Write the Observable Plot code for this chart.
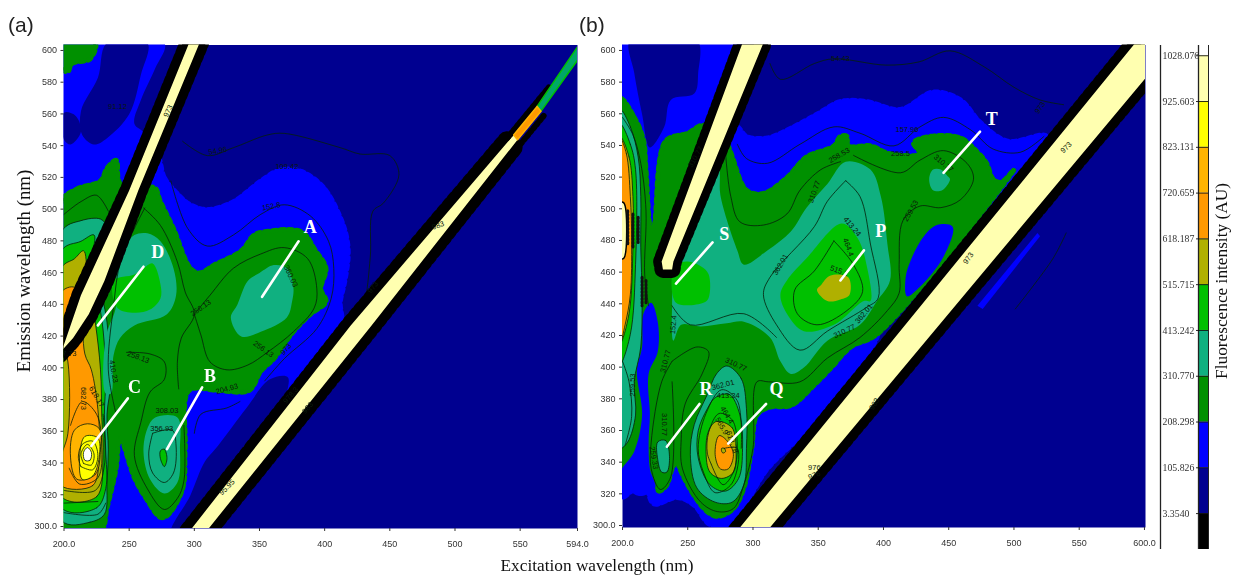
<!DOCTYPE html>
<html><head><meta charset="utf-8">
<script src="https://cdn.jsdelivr.net/npm/d3@7"></script>
<script src="https://cdn.jsdelivr.net/npm/@observablehq/plot@0.6"></script>
<style>
html,body{margin:0;padding:0;background:#fff;overflow:hidden}
#root{position:relative;width:1233px;height:576px;overflow:hidden;filter:blur(0.4px)}
#root>svg,#root>div{position:absolute}
.t{font-family:"Liberation Serif",serif;white-space:nowrap;color:#111}
.p{font-family:"Liberation Sans",sans-serif;font-size:21px;color:#222;white-space:nowrap}
</style></head><body><div id="root"></div>
<script>
const navy="#000090",blue="#0000ff",green="#009000",teal="#10b080",bright="#00c000",olive="#b0b000",orange="#ff9900",amber="#ffb400",yellow="#ffff00",cream="#ffffb0";

/* ---------- panel (a) regions: [excitation nm, emission nm] ---------- */
const aBlueLeft=[[200,606],[277,606],[270,590],[259,570],[254,555],[262,548],[250,500],[200,450]];
const aNavyWedge=[[233,606],[264,606],[259,586],[250,561],[233,546],[223,542],[214,548],[213,563],[226,584]];
const aNavyPatch=[[200,562],[209,560],[213,550],[205,542],[200,545]];
const aGreenCorner=[[198,606],[224,606],[220,596],[206,593],[203,588],[198,590]];
const aBlueMain=[[272,534],[277,521],[287,511],[297,504],[310,501],[330,506],[351,519],[366,526],[382,525],[399,515],[412,496],[417,483],[418,471],[415,454],[412,443],[412,425],[290,296],[228,296],[240,400]];
const aNavyStrip=[[282,296],[297,321],[308,342],[318,352],[340,376],[358,394],[372,395],[310,296]];
const aGreen=[[198,506],[210,514],[228,519],[233,527],[240,532],[242,519],[250,510],[269,515],[274,506],[284,489],[297,464],[304,461],[315,466],[336,475],[346,485],[354,487],[382,487],[393,475],[401,464],[397,451],[401,443],[389,435],[376,424],[361,407],[351,399],[342,387],[318,387],[296,387],[293,350],[291,325],[279,308],[274,307],[263,319],[254,332],[243,357],[240,338],[233,313],[228,298],[198,298]];
const aTealL=[[198,305],[220,304],[231,309],[233,329],[234,350],[233,372],[236,393],[233,430],[227,460],[231,481],[233,490],[228,495],[213,494],[198,487]];
const aBrightL=[[198,313],[225,313],[232,325],[232,350],[231,372],[232,395],[230,425],[222,470],[223,485],[213,481],[198,475]];
const aOliveL=[[198,320],[225,320],[230,345],[229,370],[228,400],[224,430],[218,460],[215,475],[208,470],[198,464]];
const aOrangeL=[[198,327],[222,327],[227,345],[226,375],[221,400],[216,410],[213,440],[208,452],[198,449],[198,420],[203,405],[203,360],[198,345]];
const aAmberL=[[210,331],[224,334],[228,350],[227,363],[218,366],[208,362],[205,345]];
const aYellowL=[[214,331],[222,333],[227,345],[226,357],[216,358],[212,345]];
const aCreamPeak=[[216,343],[220,343],[221,348],[218,351],[215,348]];
const aTealD=[[248,479],[254,485],[264,486],[274,481],[284,464],[286,447],[279,435],[254,428],[243,420],[238,409],[236,385],[232,385],[232,420],[240,440],[240,458]];
const aBrightD=[[238,456],[254,460],[261,464],[268,467],[274,454],[274,445],[266,438],[254,436],[241,439]];
const aTealA=[[361,466],[371,464],[376,452],[375,443],[371,433],[351,424],[336,421],[328,433],[333,441],[341,456],[350,461]];
const aTealB=[[270,370],[287,370],[289,350],[287,329],[277,322],[266,331],[261,348],[264,363]];
const aBrightB=[[274,349],[277,350],[279,344],[277,339],[274,344]];
/* contour lines */
const aLine1=[[291,544],[310,535],[330,540],[356,548],[369,549],[412,540],[427,536],[450,535],[457,523],[445,505],[437,500],[435,471],[430,440],[420,420]];
const aLine2=[[282,519],[295,489],[310,478],[330,485],[351,498],[369,504],[389,497],[403,481],[407,464],[405,445],[394,426],[369,407],[354,393]];
const aLine3=[[300,435],[305,422],[312,405],[325,400],[341,403],[356,411],[376,424],[392,439],[394,451],[387,470],[369,477],[351,473],[330,464],[312,447],[300,435]];
const aLine4=[[261,502],[274,491],[287,468],[293,449],[300,435],[290,420],[287,405],[288,388]];
const aLine5=[[248,411],[266,410],[277,405],[277,394],[266,386],[259,367],[254,346],[264,325],[277,312],[287,319],[292,330],[292,365]];
const aLine6=[[268,360],[283,362],[286,352],[284,335],[277,329],[268,335],[265,347],[268,360]];
const aLine7=[[200,498],[213,506],[225,510],[234,500]];
const aLine8=[[262,502],[244,470],[238,440],[234,400],[240,372]];
const aLine9=[[200,310],[226,309],[232,316]];
const aLine10=[[200,316],[226,317]];
const aLine11=[[200,324],[224,324],[231,340],[230,372]];
const aLine12=[[204,338],[212,328],[226,332],[229,352],[225,372],[214,380],[205,365]];
const aLine13=[[213,339],[222,337],[226,346],[222,355],[214,353],[211,345],[213,339]];
const aLine14=[[215,341],[221,340],[223,347],[218,353],[213,347],[215,341]];
const aLine15=[[300,360],[305,372],[325,376],[335,380]];
const aLines=[aLine1,aLine2,aLine3,aLine4,aLine5,aLine6,aLine7,aLine8,aLine9,aLine10,aLine11,aLine12,aLine13,aLine14,aLine15];
/* scatter bands */
const aBand2=[[296,606],[250,513],[213,447],[200,416],[196,410],[207,420],[219,435],[231,456],[257,513],[304,606]];
const aBand1=[[288,290],[298,300],[420,428],[545,548],[548,545],[436,428],[311,300],[301,290]];
const aBand1Up=[[288,290],[298,300],[420,428],[540,544]];
const aBand1Down=[[301,290],[311,300],[436,428],[545,541]];
const aTailEdgeUp=[[540,546],[572,578]];
const aTailEdgeDown=[[548,540],[568,560]];
const aTailOrange=[[545,548],[563,566],[566,563],[548,545]];
const aTailGreen=[[563,566],[596,606],[600,602],[566,563]];
/* annotations */
const aArrows=[{k:"A",l:[[380,481],[352,446]],t:[389,490]},{k:"D",l:[[261,465],[226,428]],t:[272,474]},{k:"C",l:[[249,382],[221,352]],t:[254,389]},{k:"B",l:[[306,389],[279,350]],t:[312,396]}];
const aLabels=[["91.12",241,566,0],["54.96",318,538,-10],["109.42",371,528,0],["152.8",359,503,-10],["360.03",374,459,65],["258.13",257,408,20],["256.13",305,439,-35],["256.13",353,413,35],["308.03",279,374,0],["356.93",275,363,0],["682.73",215,382,90],["618.17",225,383,60],["957.73",201,410,0],["410.23",238,399,80],["204.93",325,388,-15],["95.95",325,326,-45],["978.3",374,384,-50],["983",387,376,-50],["973",280,563,-65],["983",487,491,-20],["973",437,452,-50],["973",370,413,-50]];

/* ---------- panel (b) regions ---------- */
const bBlueLeft=[[198,606],[300,606],[275,540],[232,460],[225,480],[198,500]];
const bNavyWedge=[[206,608],[257,608],[258,587],[255,574],[237,570],[232,553],[221,540],[215,561],[209,587]];
const bBlueUpper=[[282,553],[288,553],[295,547],[311,546],[331,553],[349,561],[367,569],[387,569],[413,564],[438,575],[459,570],[474,556],[495,544],[525,547],[500,510],[300,480]];
const bBlueLower=[[198,319],[216,328],[224,315],[242,319],[255,314],[267,302],[285,302],[298,320],[311,337],[334,356],[357,377],[395,420],[395,425],[300,420],[198,420]];
const bGreen=[[198,571],[209,559],[216,545],[218,526],[222,488],[224,490],[233,544],[250,549],[262,554],[278,545],[295,513],[308,511],[326,521],[341,534],[362,541],[367,547],[372,547],[373,541],[390,541],[405,536],[428,536],[423,543],[436,547],[459,546],[472,537],[479,530],[484,520],[490,518],[500,526],[395,422],[375,414],[360,401],[347,390],[329,377],[313,376],[303,371],[299,350],[293,325],[285,312],[273,307],[265,310],[255,320],[244,337],[242,342],[238,337],[234,327],[228,323],[224,331],[214,346],[198,333]];
const bBlueWedge=[[222,442],[227,430],[227,411],[220,397],[221,371],[220,354],[221,337],[225,325],[212,320],[198,333],[209,348],[215,371],[211,399],[215,414],[216,435]];
const bBlueHole=[[421,469],[431,484],[441,491],[453,490],[446,471],[428,452],[418,446],[417,458]];
const bBlueStrip=[[472,440],[518,486],[520,484],[476,438]];
const bTealP=[[371,531],[390,526],[398,509],[403,479],[405,456],[395,443],[382,428],[357,418],[339,401],[329,397],[321,405],[313,420],[293,430],[280,429],[260,427],[245,428],[239,418],[238,440],[240,460],[255,490],[270,530],[274,526],[275,510],[288,475],[293,466],[311,475],[329,487],[341,502],[357,517]];
const bBrightP=[[368,492],[380,483],[387,466],[390,443],[385,443],[362,428],[339,424],[326,435],[321,447],[326,456],[341,470]];
const bOliveP=[[359,459],[373,458],[374,447],[367,444],[357,443],[349,450],[352,453]];
const bBrightS=[[240,465],[250,468],[260,465],[266,460],[266,445],[262,442],[241,442]];
const bTealT=[[435,520],[438,526],[444,526],[449,522],[451,520],[445,513],[438,513]];
const bTealQ=[[280,402],[291,394],[295,375],[295,350],[293,327],[284,316],[271,316],[257,325],[252,346],[255,365],[265,384],[272,397]];
const bBrightQ=[[271,382],[282,384],[290,371],[292,350],[289,331],[279,323],[267,327],[258,344],[258,361],[265,375]];
const bOliveQ=[[272,367],[284,363],[287,348],[285,335],[276,331],[267,335],[264,348],[266,361]];
const bOrangeQ=[[274,358],[281,354],[285,346],[281,337],[275,337],[271,346]];
const bPeakQ=[[276,350],[278,350],[279,348],[277,347],[276,348]];
const bTealR=[[227,354],[233,355],[236,345],[234,335],[230,335],[227,343]];
const bTealL=[[198,564],[206,553],[212,534],[214,509],[214,477],[215,445],[214,414],[209,392],[210,371],[204,354],[198,350]];
const bBrightL=[[198,555],[206,542],[210,526],[210,466],[206,422],[198,403]];
const bOliveL=[[198,547],[205,534],[208,509],[208,477],[205,435],[198,416]];
const bOrangeL=[[198,546],[203,536],[206,509],[207,481],[206,447],[202,428],[198,416]];
const bCreamL=[[198,505],[201,505],[201,470],[198,470]];
const bLine1=[[313,593],[321,583],[347,593],[362,596],[402,592],[427,594],[451,601],[477,591],[500,578],[520,570],[538,567]];
const bLine2=[[288,542],[295,533],[311,530],[336,542],[362,553],[382,549],[408,541],[428,553],[446,559],[467,551],[484,539],[505,537],[523,547]];
const bLine3=[[279,536],[283,509],[290,493],[308,491],[326,498],[336,513],[352,526],[367,531]];
const bLine4=[[377,535],[413,524],[428,532],[446,538],[464,530],[469,520],[459,507],[444,502],[428,503],[415,494],[412,466],[412,448],[403,437],[382,420],[357,407],[336,392],[312,392],[303,392],[300,350],[293,327],[285,312],[273,310],[260,316],[246,337],[245,356],[248,378],[261,397],[266,411],[257,414],[238,405]];
const bLine5=[[371,519],[382,509],[390,479],[396,445],[387,439],[357,424],[336,412],[318,428],[308,447],[313,458],[347,490],[357,506],[371,519]];
const bLine6=[[362,481],[377,466],[384,449],[372,437],[349,428],[334,435],[332,450],[347,462],[362,481]];
const bLine7=[[238,405],[230,392],[222,354],[222,337],[229,324],[237,332],[238,392]];
const bLine8=[[278,350],[288,350],[284,328],[271,322],[262,335],[258,350],[264,372],[276,387],[288,380],[291,350]];
const bLine9=[[268,340],[277,327],[285,335],[288,352],[284,368],[274,372],[266,360],[265,347],[268,340]];
const bLine10=[[200,559],[208,548],[214,530],[218,500],[217,460],[220,440]];
const bLine11=[[200,405],[205,392],[207,370],[202,352]];
const bLine12=[[501,438],[530,470],[540,486]];
const bLine13=[[238,440],[252,428],[293,435],[318,420]];
const bLine14=[[258,535],[248,505],[240,470]];
const bLine15=[[306,300],[360,350],[372,364],[420,410]];
const bLines=[bLine1,bLine2,bLine3,bLine4,bLine5,bLine6,bLine7,bLine8,bLine9,bLine10,bLine11,bLine12,bLine13,bLine14];
const bClutter=[[[204,500],[204,478]],[[208,498],[208,476]],[[212,496],[212,480]],[[215,458],[215,440]],[[218,456],[218,442]]];
const bBand2=[[292,606],[230,468],[231,463],[238,463],[239,468],[308,606]];
const bBand1=[[280,290],[290,300],[589,602],[603,616],[622,604],[601,584],[313,300],[303,290]];
const bArrows=[{k:"P",l:[[385,475],[367,456]],t:[398,487]},{k:"S",l:[[269,480],[241,454]],t:[278,485]},{k:"T",l:[[474,550],[446,524]],t:[483,558]},{k:"R",l:[[259,378],[234,351]],t:[264,387]},{k:"Q",l:[[310,378],[281,353]],t:[318,387]}];
const bLabels=[["54.43",367,596,0],["157.96",418,551,0],["310.77",446,530,40],["258.53",366,535,-30],["258.5",413,536,0],["310.77",347,512,-70],["362.01",321,466,-60],["413.24",376,490,50],["464.4",373,477,70],["515.2",366,462,20],["310.77",370,424,-25],["362.01",385,435,-50],["310.77",287,403,25],["362.01",277,390,-15],["413.24",281,383,0],["464.4",280,371,60],["565.9",276,364,60],["618.78",284,354,70],["310.77",232,365,90],["259.33",224,344,80],["259.53",208,390,-90],["310.77",233,405,-75],["152.4",239,428,-85],["310.77",256,534,-60],["259.53",421,500,-60],["976",347,338,0],["976",347,333,-20],["983",393,378,-60],["973",520,565,-55],["973",540,540,-45],["973",465,470,-55]];

const yTicks=d3.range(300,601,20);
const aXTicks=[200,250,300,350,400,450,500,550,594];
const bXTicks=[200,250,300,350,400,450,500,550,600];

/* ---------- colour bar ---------- */
const barEdges=[-77,3.354,105.826,208.298,310.770,413.242,515.715,618.187,720.659,823.131,925.603,1028.076];
const barColors=["#000",navy,blue,green,teal,bright,olive,orange,amber,yellow,cream];
const barTicks=[[1028.076,"1028.076"],[925.603,"925.603"],[823.131,"823.131"],[720.659,"720.659"],[618.187,"618.187"],[515.715,"515.715"],[413.242,"413.242"],[310.770,"310.770"],[208.298,"208.298"],[105.826,"105.826"],[3.354,"3.3540"]];

/* ---------- helpers ---------- */
const closed=p=>p.concat([p[0]]);
const X=d=>d[0],Y=d=>d[1];
const poly=(p,fill,stroke="none",sw=0.8,dash)=>Plot.line(p,{x:X,y:Y,fill,stroke,strokeWidth:sw,strokeDasharray:dash,clip:true,curve:"catmull-rom-closed"});
const stair=(p,fill)=>poly(p,fill,fill,5,"4,4");
const line=(p,stroke="#06200a",sw=0.9)=>Plot.line(p,{x:X,y:Y,stroke,strokeWidth:sw,clip:true,strokeOpacity:0.9,curve:"catmull-rom"});
const edge=(p,sw,jag)=>[
  Plot.line(p,{x:X,y:Y,stroke:"#000",strokeWidth:sw,clip:true,strokeLinejoin:"round"}),
  Plot.line(p,{x:X,y:Y,stroke:"#000",strokeWidth:jag,strokeDasharray:"4,4",clip:true})
];
const creamFill=p=>Plot.line(closed(p),{x:X,y:Y,fill:cream,stroke:"none",clip:true});
const band=(p,sw,jag)=>[...edge(closed(p),sw,jag),creamFill(p)];
const labels=L=>Plot.text(L,{x:d=>d[1],y:d=>d[2],text:d=>d[0],rotate:d=>d[3],fontSize:7.5,fill:"#0a1a0a",clip:true});
const annot=A=>[
  ...A.map(a=>Plot.line(a.l,{x:X,y:Y,stroke:"#fff",strokeWidth:2.6})),
  Plot.text(A,{x:a=>a.t[0],y:a=>a.t[1],text:a=>a.k,fill:"#fff",fontWeight:"bold",fontSize:18,fontFamily:"Liberation Serif"})
];
const axes=(xt)=>[
  Plot.axisX({ticks:xt,tickFormat:v=>(v===200||v===594||v===600)?v.toFixed(1):String(v),tickSize:3,tickPadding:9,label:null,fontSize:9,color:"#333"}),
  Plot.axisY({ticks:yTicks,tickFormat:v=>v===300?"300.0":String(v),tickSize:3,tickPadding:4,label:null,fontSize:9,dy:-2,color:"#333"})
];
const style={fontFamily:"Liberation Sans, sans-serif",background:"transparent",overflow:"visible"};

const panelA=Plot.plot({width:590,height:576,marginLeft:63.5,marginRight:13,marginTop:44.5,marginBottom:48,style,
  x:{domain:[200,594]},y:{domain:[300,604.7]},
  marks:[
    Plot.frame({fill:navy,stroke:"none"}),
    poly(aBlueLeft,blue),poly(aNavyWedge,navy),poly(aNavyPatch,navy),stair(aGreenCorner,green),
    stair(aBlueMain,blue),poly(aNavyStrip,navy),
    stair(aGreen,green),
    poly(aTealL,teal,"#06200a"),poly(aBrightL,bright,"#06200a"),poly(aOliveL,olive,"#06200a"),poly(aOrangeL,orange,"#06200a"),
    poly(aAmberL,amber,"#06200a"),poly(aYellowL,yellow,"#06200a"),poly(aCreamPeak,"#fff","#06200a"),
    poly(aTealD,teal),poly(aBrightD,bright),poly(aTealA,teal),poly(aTealB,teal),poly(aBrightB,bright,"#06200a"),
    ...aLines.map(l=>line(l)),
    ...band(aBand2,12,19),
    ...edge(aBand1Up,12,20),...edge(aBand1Down,12,20),
    creamFill(aBand1),
    Plot.line(aTailEdgeUp,{x:X,y:Y,stroke:"#000",strokeWidth:6,strokeDasharray:"2,3",clip:true}),
    Plot.line(aTailEdgeDown,{x:X,y:Y,stroke:"#000",strokeWidth:6,strokeDasharray:"2,3",clip:true}),
    Plot.line(closed(aTailGreen),{x:X,y:Y,fill:"#00a868",stroke:bright,strokeWidth:1.5,clip:true}),
    Plot.line(closed(aTailOrange),{x:X,y:Y,fill:orange,stroke:amber,strokeWidth:1.5,clip:true}),
    labels(aLabels),
    ...annot(aArrows),
    ...axes(aXTicks)
  ]});
panelA.style.left="0px";panelA.style.top="0px";

const panelB=Plot.plot({width:563,height:576,marginLeft:32,marginRight:8,marginTop:44.5,marginBottom:49,style,
  x:{domain:[200,600.8]},y:{domain:[300,604.7]},
  marks:[
    Plot.frame({fill:navy,stroke:"none"}),
    poly(bBlueLeft,blue),poly(bNavyWedge,navy),stair(bBlueUpper,blue),stair(bBlueLower,blue),
    Plot.line(closed(bBlueStrip),{x:X,y:Y,fill:blue,clip:true}),
    stair(bGreen,green),poly(bBlueWedge,blue),poly(bBlueHole,blue),
    poly(bTealP,teal),poly(bBrightP,bright),poly(bOliveP,olive),poly(bBrightS,bright),poly(bTealT,teal),
    poly(bTealQ,teal,"#06200a"),poly(bBrightQ,bright,"#06200a"),poly(bOliveQ,olive,"#06200a"),poly(bOrangeQ,orange,"#06200a"),poly(bPeakQ,olive,"#06200a"),poly(bTealR,teal,"#06200a"),
    poly(bTealL,teal,"#06200a"),poly(bBrightL,bright,"#06200a"),poly(bOliveL,olive,"#06200a"),poly(bOrangeL,orange,"#06200a"),poly(bCreamL,cream,"#000",1.5),
    ...bLines.map(l=>line(l)),
    line(bLine15,"#000060",1),
    ...bClutter.map(c=>Plot.line(c,{x:X,y:Y,stroke:"#111",strokeWidth:3,strokeDasharray:"1.5,2",clip:true})),
    ...band(bBand2,10,17),...band(bBand1,11,19),
    labels(bLabels),
    ...annot(bArrows),
    ...axes(bXTicks)
  ]});
panelB.style.left="590px";panelB.style.top="0px";

const barRows=barColors.map((c,i)=>({c,lo:barEdges[i],hi:barEdges[i+1]}));
const bar=Plot.plot({width:80,height:576,marginLeft:7,marginRight:25,marginTop:45,marginBottom:27,style,
  x:{domain:[0,48],axis:null},y:{domain:[-77,1051],axis:null},
  marks:[
    Plot.rect(barRows,{x1:()=>38,x2:()=>48,y1:"lo",y2:"hi",fill:"c"}),
    Plot.ruleX([0,38],{stroke:"#222",strokeWidth:1.3}),
    Plot.ruleX([48],{stroke:"#222",strokeWidth:1}),
    Plot.ruleY(barTicks,{y:d=>d[0],x1:()=>36,x2:()=>48,stroke:"#111",strokeWidth:0.9}),
    Plot.text(barTicks,{x:()=>2,y:d=>d[0],text:d=>d[1],textAnchor:"start",fontSize:9.8,fontFamily:"Liberation Serif",fill:"#333"})
  ]});
bar.style.left="1153px";bar.style.top="0px";

const root=document.getElementById("root");
root.append(panelA,panelB,bar);
const add=(cls,txt,css)=>{const d=document.createElement("div");d.className=cls;d.textContent=txt;d.style.cssText=css;root.append(d);};
add("p","(a)","left:8px;top:13px");
add("p","(b)","left:579px;top:13px");
add("t","Excitation wavelength (nm)","left:597px;top:566px;transform:translate(-50%,-50%);font-size:17.3px");
add("t","Emission wavelength (nm)","left:24px;top:271px;transform:translate(-50%,-50%) rotate(-90deg);font-size:18.8px");
add("t","Fluorescence intensity (AU)","left:1222px;top:281px;transform:translate(-50%,-50%) rotate(-90deg);font-size:17.3px");
</script></body></html>
